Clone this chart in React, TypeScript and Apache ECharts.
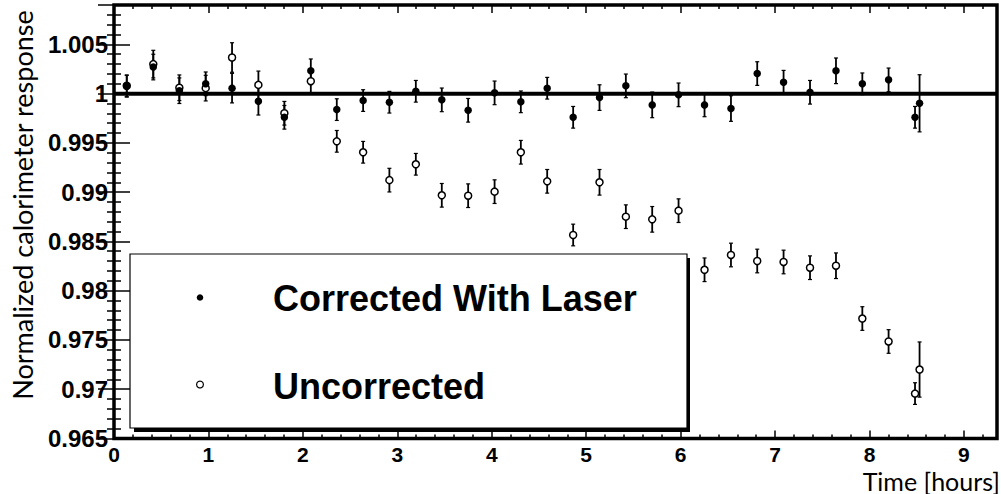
import React, { useEffect, useRef } from "react";
import * as echarts from "echarts";

// Time of each run [hours]
const timeHours = [
  0.135, 0.416, 0.692, 0.971, 1.25, 1.529, 1.804, 2.084, 2.359, 2.638, 2.916,
  3.196, 3.471, 3.75, 4.03, 4.308, 4.587, 4.862, 5.141, 5.42, 5.699, 5.978,
  6.253, 6.533, 6.811, 7.09, 7.37, 7.645, 7.924, 8.202, 8.482, 8.53,
];

// Corrected with laser (filled markers)
const corrected = [
  1.00075, 1.0027, 1.0003, 1.001, 1.00056, 0.99923, 0.9976, 1.00232, 0.99838, 0.9993, 0.99913,
  1.00024, 0.99937, 0.99831, 1.00008, 0.99917, 1.00055, 0.9976, 0.9996, 1.00079, 0.99886, 0.99988,
  0.99886, 0.99849, 1.00204, 1.00116, 1.00014, 1.00232, 1.001, 1.0014, 0.9976, 0.99902,
];
const correctedErr = [
  0.0011, 0.0013, 0.0013, 0.0012, 0.0015, 0.0014, 0.0012, 0.0012, 0.0011, 0.0011, 0.0011,
  0.0011, 0.0012, 0.0012, 0.0012, 0.0011, 0.0011, 0.0011, 0.0013, 0.0012, 0.0013, 0.0012,
  0.0012, 0.0013, 0.0012, 0.0012, 0.0012, 0.0013, 0.0011, 0.0012, 0.0011, 0.0029,
];

// Uncorrected (open markers)
const uncorrected = [
  1.0008, 1.003, 1.0006, 1.00056, 1.00367, 1.00089, 0.99801, 1.00126, 0.99516, 0.99405, 0.99122,
  0.99283, 0.98968, 0.98964, 0.99005, 0.99405, 0.9911, 0.98565, 0.991, 0.98751, 0.98724, 0.98812,
  0.98212, 0.98362, 0.98301, 0.98291, 0.98233, 0.98253, 0.97717, 0.97484, 0.96955, 0.97199,
];
const uncorrectedErr = [
  0.0011, 0.0014, 0.0013, 0.0013, 0.0015, 0.0014, 0.0012, 0.0012, 0.0011, 0.0011, 0.0012,
  0.0011, 0.0012, 0.0012, 0.0012, 0.0012, 0.0012, 0.0011, 0.0013, 0.0012, 0.0013, 0.0012,
  0.0012, 0.0012, 0.0012, 0.0012, 0.0012, 0.0013, 0.0012, 0.0012, 0.0011, 0.0028,
];

const fitLevel = 1.0;
const xRange = [0, 9.35];
const yRange = [0.965, 1.009];
const legendLabels = ["Corrected With Laser", "Uncorrected"];
const xTitle = "Time [hours]";
const yTitle = "Normalized calorimeter response";

const TICK_FONT = "Liberation Sans, Arial, Helvetica, sans-serif";
const TITLE_FONT = "Lato, 'Open Sans', sans-serif";

function errorSeries(name: string, xs: number[], ys: number[], es: number[]) {
  return {
    name,
    type: "custom",
    z: 3,
    clip: false,
    data: xs.map((x, i) => [x, ys[i], es[i]]),
    renderItem: (_params: any, api: any) => {
      const x = api.value(0);
      const y = api.value(1);
      const e = api.value(2);
      const top = api.coord([x, y + e]);
      const bot = api.coord([x, y - e]);
      const cap = 2;
      const style = { stroke: "#000", lineWidth: 1.8 };
      return {
        type: "group",
        children: [
          { type: "line", shape: { x1: top[0], y1: top[1], x2: bot[0], y2: bot[1] }, style },
          { type: "line", shape: { x1: top[0] - cap, y1: top[1], x2: top[0] + cap, y2: top[1] }, style: { stroke: "#000", lineWidth: 1.2 } },
          { type: "line", shape: { x1: bot[0] - cap, y1: bot[1], x2: bot[0] + cap, y2: bot[1] }, style: { stroke: "#000", lineWidth: 1.2 } },
        ],
      };
    },
  };
}

export default function App() {
  const ref = useRef<HTMLDivElement>(null);

  useEffect(() => {
    if (!ref.current) return;
    const chart = echarts.init(ref.current, undefined, { renderer: "svg" });

    const tickStyle = { color: "#000", width: 1.5 };
    const baseX = {
      type: "value",
      min: xRange[0],
      max: xRange[1],
      interval: 1,
      splitLine: { show: false },
      axisLine: { show: false },
    };
    const baseY = {
      type: "value",
      min: yRange[0],
      max: yRange[1],
      interval: 0.005,
      splitLine: { show: false },
      axisLine: { show: false },
    };

    chart.setOption({
      animation: false,
      backgroundColor: "#fff",
      grid: {
        left: 114,
        right: 4,
        top: 5,
        bottom: 55.6,
        show: true,
        borderColor: "#000",
        borderWidth: 3.5,
        backgroundColor: "transparent",
        z: 10,
      },
      xAxis: [
        {
          ...baseX,
          position: "bottom",
          axisTick: { inside: true, length: 8, lineStyle: tickStyle },
          minorTick: { show: true, splitNumber: 5, length: 4, lineStyle: tickStyle },
          axisLabel: {
            show: true,
            margin: 6,
            showMaxLabel: false,
            color: "#000",
            fontFamily: TICK_FONT,
            fontWeight: "bold",
            fontSize: 21,
            formatter: (v: number) => String(Math.round(v)),
          },
        },
        {
          ...baseX,
          position: "top",
          axisTick: { inside: true, length: 8, lineStyle: tickStyle },
          minorTick: { show: true, splitNumber: 5, length: 4, lineStyle: tickStyle },
          axisLabel: { show: false },
        },
      ],
      yAxis: [
        {
          ...baseY,
          position: "left",
          axisTick: { inside: true, length: 16, lineStyle: tickStyle },
          minorTick: { show: true, splitNumber: 5, length: 7, lineStyle: tickStyle },
          axisLabel: {
            show: true,
            margin: 6,
            showMaxLabel: false,
            color: "#000",
            fontFamily: TICK_FONT,
            fontWeight: "bold",
            fontSize: 24,
            formatter: (v: number) => String(parseFloat(v.toFixed(3))),
          },
        },
        {
          ...baseY,
          position: "right",
          axisTick: { inside: true, length: 16, lineStyle: tickStyle },
          minorTick: { show: true, splitNumber: 5, length: 7, lineStyle: tickStyle },
          axisLabel: { show: false },
        },
      ],
      series: [
        {
          name: "Fit",
          type: "line",
          z: 2,
          symbol: "none",
          silent: true,
          lineStyle: { color: "#000", width: 4 },
          data: [
            [xRange[0], fitLevel],
            [xRange[1], fitLevel],
          ],
        },
        errorSeries("Uncorrected errors", timeHours, uncorrected, uncorrectedErr),
        errorSeries("Corrected errors", timeHours, corrected, correctedErr),
        {
          name: legendLabels[1],
          type: "scatter",
          z: 4,
          symbol: "circle",
          symbolSize: 7,
          itemStyle: { color: "#fff", borderColor: "#000", borderWidth: 1.5, opacity: 1 },
          data: timeHours.map((t, i) => [t, uncorrected[i]]),
        },
        {
          name: legendLabels[0],
          type: "scatter",
          z: 5,
          symbol: "circle",
          symbolSize: 7.5,
          itemStyle: { color: "#000", opacity: 1 },
          data: timeHours.map((t, i) => [t, corrected[i]]),
        },
      ],
      graphic: [
        // legend box shadow + box
        { type: "rect", z: 20, shape: { x: 134, y: 258, width: 556, height: 174 }, style: { fill: "#000" } },
        { type: "rect", z: 21, shape: { x: 130, y: 254, width: 557, height: 174 }, style: { fill: "#fff", stroke: "#000", lineWidth: 1.2 } },
        { type: "circle", z: 22, shape: { cx: 200, cy: 297.5, r: 3.3 }, style: { fill: "#000" } },
        { type: "circle", z: 22, shape: { cx: 200, cy: 384.5, r: 3.4 }, style: { fill: "#fff", stroke: "#000", lineWidth: 1.2 } },
        {
          type: "text",
          z: 22,
          x: 273,
          y: 298.5,
          style: {
            text: legendLabels[0],
            fill: "#000",
            font: `bold 36px ${TICK_FONT}`,
            textAlign: "left",
            textVerticalAlign: "middle",
          },
        },
        {
          type: "text",
          z: 22,
          x: 273,
          y: 386,
          style: {
            text: legendLabels[1],
            fill: "#000",
            font: `bold 36px ${TICK_FONT}`,
            textAlign: "left",
            textVerticalAlign: "middle",
          },
        },
        // axis titles
        {
          type: "text",
          z: 22,
          x: 1000,
          y: 480.5,
          style: {
            text: xTitle,
            fill: "#000",
            font: `25px ${TITLE_FONT}`,
            textAlign: "right",
            textVerticalAlign: "middle",
          },
        },
        {
          type: "text",
          z: 22,
          x: 22.5,
          y: 205,
          rotation: Math.PI / 2,
          style: {
            text: yTitle,
            fill: "#000",
            font: `27px ${TITLE_FONT}`,
            textAlign: "center",
            textVerticalAlign: "middle",
          },
        },
      ],
    });

    return () => chart.dispose();
  }, []);

  return (
    <div
      ref={ref}
      style={{ position: "absolute", left: 0, top: 0, width: 1001, height: 494 }}
    />
  );
}
